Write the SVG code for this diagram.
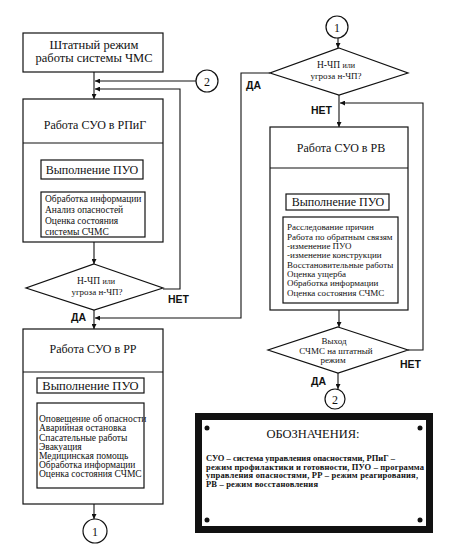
<svg xmlns="http://www.w3.org/2000/svg" width="450" height="559" viewBox="0 0 450 559">
<style>
.b{fill:#fff;stroke:#111;stroke-width:1.2}
.l{fill:none;stroke:#111;stroke-width:1.1}
.t{font-family:"Liberation Serif","Times New Roman",serif;fill:#111}
.c{text-anchor:middle}
.s{font-family:"Liberation Sans",Arial,sans-serif;font-weight:bold;fill:#111;font-size:10.5px}
</style>
<defs>
<marker id="ar" viewBox="0 0 6 6" refX="6" refY="3" markerWidth="6" markerHeight="5" markerUnits="userSpaceOnUse" orient="auto">
<path d="M0,0L6,3L0,6z" fill="#111"/>
</marker>
</defs>
<rect width="450" height="559" fill="#fff"/>

<g id="connectors" class="l" marker-end="url(#ar)">
<path d="M94,72V99"/>
<path d="M196,81H95"/>
<path d="M163,289H180V89H95"/>
<path d="M94,242V264"/>
<path d="M94,310V329"/>
<path d="M270,73H241V318H95"/>
<path d="M92,179V192"/>
<path d="M90,393V403"/>
<path d="M94,504V519"/>
<path d="M338,38V48"/>
<path d="M339,95V127"/>
<path d="M408,350H423V103H340"/>
<path d="M337,210V217"/>
<path d="M339,310V327"/>
<path d="M338,373V389"/>
</g>

<g id="n_shtat">
<rect class="b" x="23" y="33" width="140" height="39"/>
<text class="t c" x="94" y="49" font-size="12.5">Штатный режим</text>
<text class="t c" x="94" y="62" font-size="12.5">работы системы ЧМС</text>
</g>

<g id="c2_top">
<circle class="b" cx="207" cy="81" r="11"/>
<text class="t c" x="207" y="85.5" font-size="12">2</text>
</g>

<g id="n_rpig">
<rect class="b" x="23" y="99" width="140" height="143"/>
<line class="l" x1="23" y1="143" x2="163" y2="143"/>
<text class="t c" x="95" y="129" font-size="12">Работа СУО в РПиГ</text>
<rect class="b" x="41" y="160" width="102" height="19"/>
<text class="t c" x="92" y="174" font-size="12">Выполнение ПУО</text>
<rect class="b" x="41" y="192" width="104" height="45"/>
<text class="t" x="45" y="202" font-size="9.5">Обработка информации</text>
<text class="t" x="45" y="213" font-size="9.5">Анализ опасностей</text>
<text class="t" x="45" y="224" font-size="9.5">Оценка состояния</text>
<text class="t" x="45" y="235" font-size="9.5">системы СЧМС</text>
</g>

<g id="d_left">
<polygon class="b" points="94,264 163,288 94,310 26,288"/>
<text class="t c" x="96" y="284"><tspan font-size="9.5">Н-ЧП </tspan><tspan font-size="8">или</tspan></text>
<text class="t c" x="97" y="295" font-size="9">угроза н-ЧП?</text>
<text class="s" x="168" y="303">НЕТ</text>
<text class="s" x="71" y="321">ДА</text>
</g>

<g id="n_rr">
<rect class="b" x="23" y="329" width="140" height="175"/>
<line class="l" x1="23" y1="372" x2="163" y2="372"/>
<text class="t c" x="93" y="353" font-size="12">Работа СУО в РР</text>
<rect class="b" x="37" y="378" width="107" height="15"/>
<text class="t c" x="90.5" y="389.5" font-size="12.5">Выполнение ПУО</text>
<rect class="b" x="37" y="403" width="107" height="85"/>
<text class="t" x="39" y="422" font-size="9.5">Оповещение об опасности</text>
<text class="t" x="39" y="431" font-size="9.5">Аварийная остановка</text>
<text class="t" x="39" y="441" font-size="9.5">Спасательные работы</text>
<text class="t" x="39" y="450" font-size="9.5">Эвакуация</text>
<text class="t" x="39" y="459" font-size="9.5">Медицинская помощь</text>
<text class="t" x="39" y="468" font-size="9.5">Обработка информации</text>
<text class="t" x="39" y="477" font-size="9.5">Оценка состояния СЧМС</text>
</g>

<g id="c1_bottom">
<circle class="b" cx="95" cy="531" r="12"/>
<text class="t c" x="95" y="535.5" font-size="12">1</text>
</g>

<g id="c1_top">
<circle class="b" cx="337" cy="27" r="11"/>
<text class="t c" x="337" y="31.5" font-size="12">1</text>
</g>

<g id="d_top">
<polygon class="b" points="339,48 408,73 339,95 270,73"/>
<text class="t c" x="336" y="68"><tspan font-size="9.5">Н-ЧП </tspan><tspan font-size="8">или</tspan></text>
<text class="t c" x="336" y="79" font-size="9">угроза н-ЧП?</text>
<text class="s" x="246" y="89">ДА</text>
<text class="s" x="311" y="114">НЕТ</text>
</g>

<g id="n_rv">
<rect class="b" x="270" y="127" width="138" height="183"/>
<line class="l" x1="270" y1="168" x2="408" y2="168"/>
<text class="t c" x="341" y="152" font-size="12">Работа СУО в РВ</text>
<rect class="b" x="286" y="194" width="103" height="16"/>
<text class="t c" x="338" y="205.5" font-size="12">Выполнение ПУО</text>
<rect class="b" x="283" y="217" width="115" height="86"/>
<text class="t" x="287" y="230" font-size="9">Расследование причин</text>
<text class="t" x="287" y="239.5" font-size="9">Работа по обратным связям</text>
<text class="t" x="287" y="249" font-size="9">-изменение ПУО</text>
<text class="t" x="287" y="258" font-size="9">-изменение конструкции</text>
<text class="t" x="287" y="268" font-size="9">Восстановительные работы</text>
<text class="t" x="287" y="277" font-size="9">Оценка ущерба</text>
<text class="t" x="287" y="286" font-size="9">Обработка информации</text>
<text class="t" x="287" y="296" font-size="9">Оценка состояния СЧМС</text>
</g>

<g id="d_bottom">
<polygon class="b" points="338,327 408,350 338,373 268,350"/>
<text class="t c" x="334" y="344" font-size="9">Выход</text>
<text class="t c" x="336" y="354" font-size="9">СЧМС на штатный</text>
<text class="t c" x="333" y="363" font-size="9">режим</text>
<text class="s" x="400" y="368">НЕТ</text>
<text class="s" x="311" y="385">ДА</text>
</g>

<g id="c2_bottom">
<circle class="b" cx="335" cy="399" r="10"/>
<text class="t c" x="335" y="403.5" font-size="12">2</text>
</g>

<g id="legend">
<rect x="198.5" y="416.5" width="231" height="113" fill="#fff" stroke="#111" stroke-width="7"/>
<circle cx="207" cy="428" r="2.5" fill="#111"/>
<circle cx="420" cy="428" r="2.5" fill="#111"/>
<circle cx="207" cy="520" r="2.5" fill="#111"/>
<circle cx="420" cy="520" r="2.5" fill="#111"/>
<text class="t c" x="313" y="438" font-size="12.5">ОБОЗНАЧЕНИЯ:</text>
<text class="t" x="206" y="461" font-size="8.5" font-weight="bold" textLength="189">СУО – система управления опасностями, РПиГ –</text>
<text class="t" x="206" y="469.5" font-size="8.5" font-weight="bold" textLength="218">режим профилактики и готовности, ПУО – программа</text>
<text class="t" x="206" y="478" font-size="8.5" font-weight="bold" textLength="212">управления опасностями, РР – режим реагирования,</text>
<text class="t" x="206" y="486.5" font-size="8.5" font-weight="bold" textLength="112">РВ – режим восстановления</text>
</g>
</svg>
